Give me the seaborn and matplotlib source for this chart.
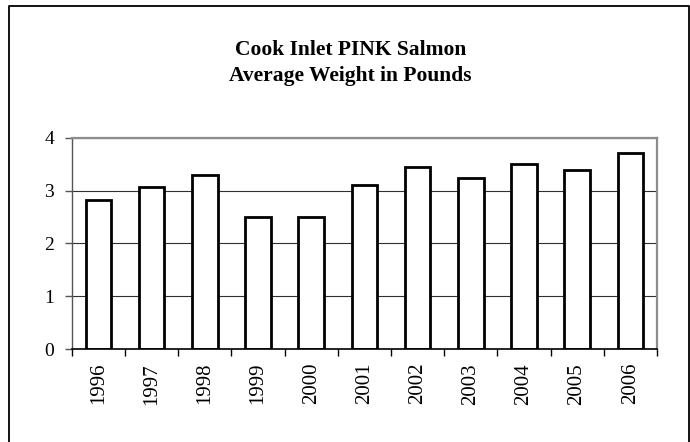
import matplotlib
matplotlib.use("Agg")
import matplotlib.pyplot as plt
import matplotlib.lines as mlines
import seaborn as sns
import pandas as pd
import numpy as np

years = ["1996", "1997", "1998", "1999", "2000", "2001",
         "2002", "2003", "2004", "2005", "2006"]
avg_weight = [2.83, 3.08, 3.30, 2.51, 2.50, 3.11,
              3.45, 3.25, 3.50, 3.40, 3.71]
title_text = "Cook Inlet PINK Salmon\nAverage Weight in Pounds"

df = pd.DataFrame({"year": years, "weight": avg_weight})

sns.set_theme(style="white")
plt.rcParams['font.family'] = ['Liberation Serif', 'DejaVu Serif']
plt.rcParams['text.color'] = 'black'
plt.rcParams['xtick.color'] = 'black'
plt.rcParams['ytick.color'] = 'black'

fig = plt.figure(figsize=(6.9, 4.42), dpi=100)
ax = fig.add_axes([0.1043, 0.2104, 0.952 - 0.1043, 0.6878 - 0.2104])

sns.barplot(data=df, x="year", y="weight", ax=ax, color="white",
            edgecolor="black", linewidth=2.0, width=0.48, saturation=1)

ax.set_ylim(0, 4)
ax.set_xlim(-0.5, len(years) - 0.5)
ax.set_yticks([0, 1, 2, 3, 4])
ax.yaxis.grid(True, color="#303030", linewidth=0.8)
ax.set_axisbelow(True)

# ticks between categories, labels at centres
ax.set_xticks(np.arange(len(years)))
ax.set_xticklabels(years, rotation=90, fontsize=15)
ax.set_xticks(np.arange(len(years) + 1) - 0.5, minor=True)
ax.tick_params(axis="x", which="major", length=0, pad=10, labelcolor="black")
ax.tick_params(axis="x", which="minor", length=5, width=1, color="black",
               direction="out", bottom=True)
ax.tick_params(axis="y", length=5, width=1, color="#555555", direction="out",
               left=True, labelsize=14, pad=8, labelcolor="black")
ax.set_xlabel("")
ax.set_ylabel("")

for side in ["top", "right"]:
    ax.spines[side].set_color("#8c8c8c")
    ax.spines[side].set_linewidth(1.6)
ax.spines["left"].set_color("#555555")
ax.spines["left"].set_linewidth(1.0)
ax.spines["bottom"].set_color("black")
ax.spines["bottom"].set_linewidth(1.2)
for s in ax.spines.values():
    s.set_visible(True)

fig.text(0.508, 0.857, title_text, ha="center", va="center", color="black",
         fontsize=15.5, fontweight="bold", linespacing=1.4)

# outer chart border
fig.add_artist(mlines.Line2D([9 / 690, 9 / 690, 688.5 / 690, 688.5 / 690],
                             [0, 1 - 6 / 442, 1 - 6 / 442, 0],
                             color="black", linewidth=1.3,
                             transform=fig.transFigure))

fig.savefig("out.png", dpi=100)
